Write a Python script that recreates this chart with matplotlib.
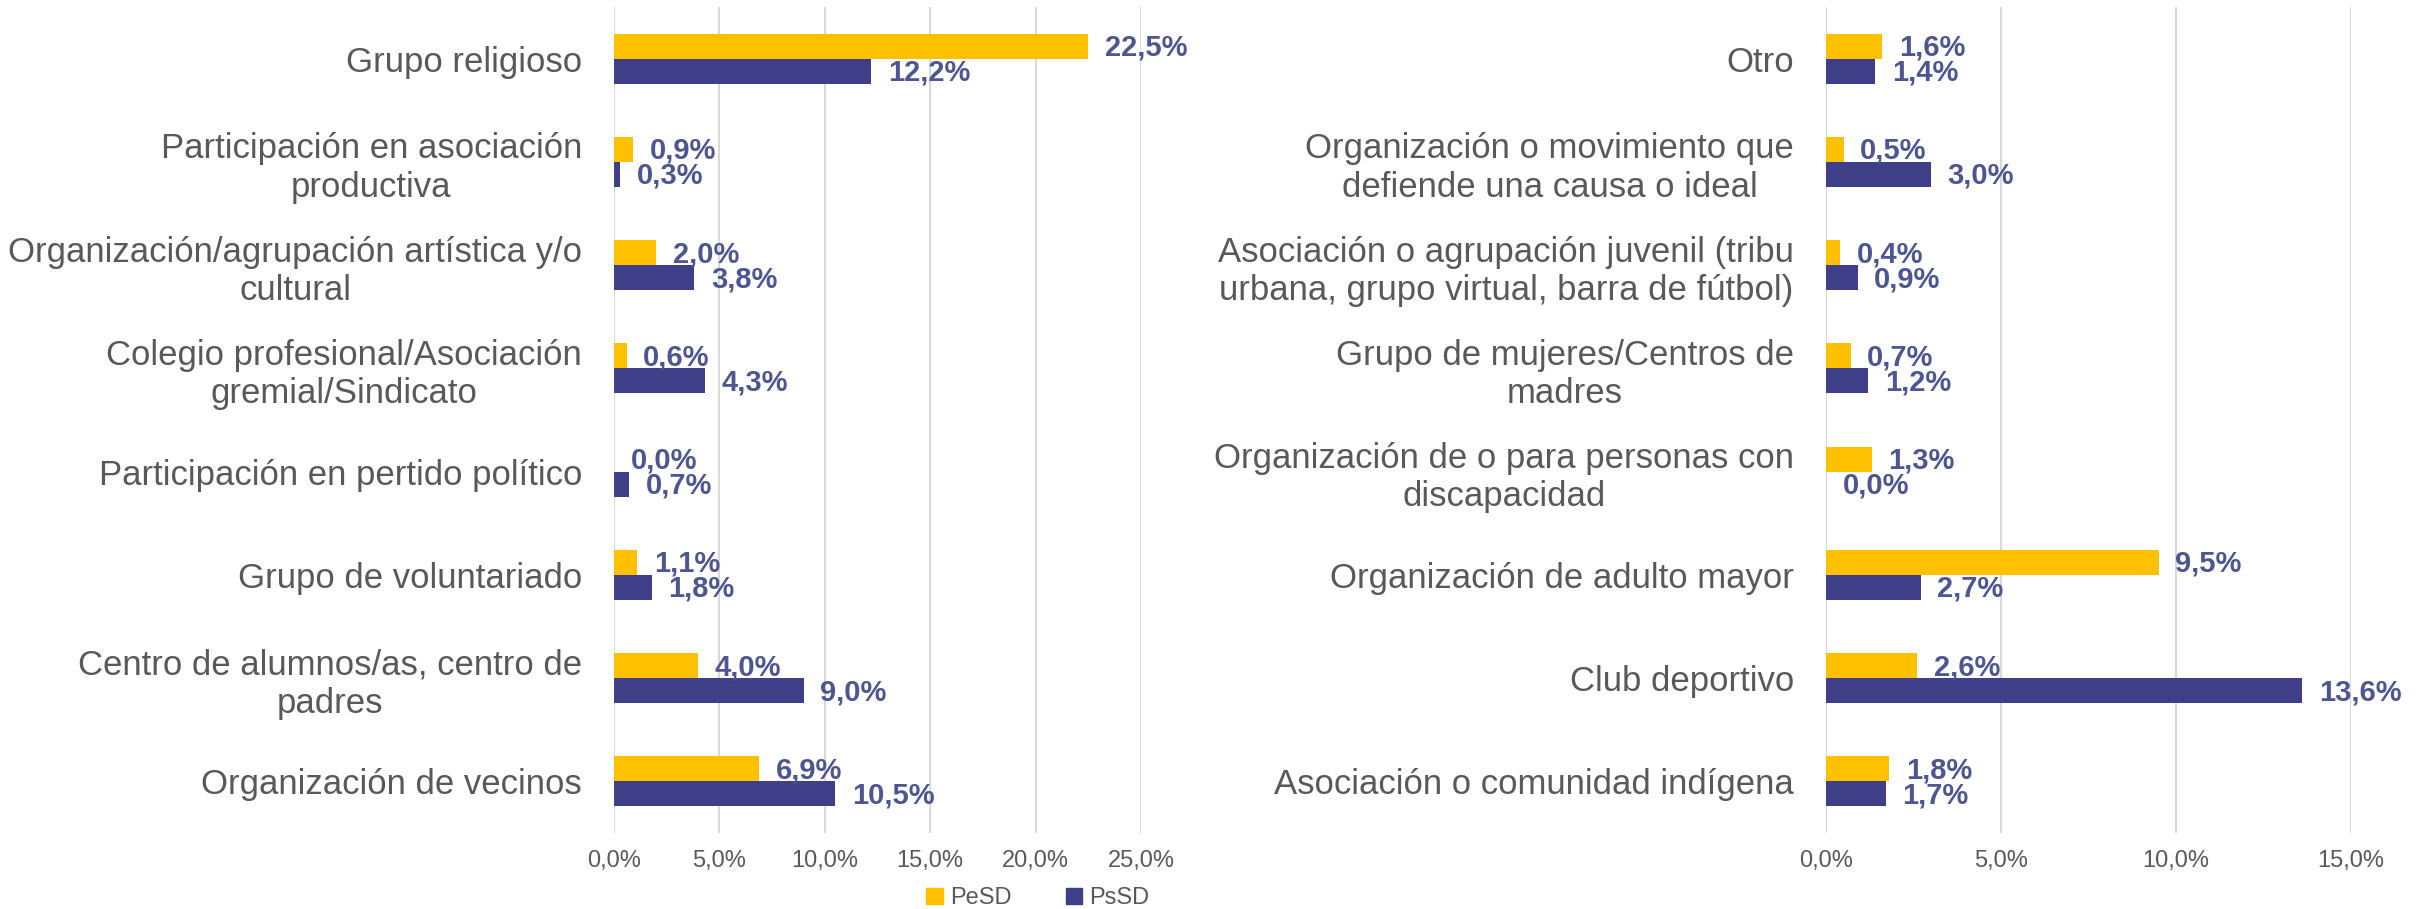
import matplotlib
matplotlib.use("Agg")
import matplotlib.pyplot as plt
import matplotlib.patches as mpatches
from matplotlib.ticker import FuncFormatter
import numpy as np

plt.rcParams['font.family'] = ['Liberation Sans', 'DejaVu Sans']

# left panel
cats_left = ['Grupo religioso',
             'Participación en asociación\nproductiva',
             'Organización/agrupación artística y/o\ncultural',
             'Colegio profesional/Asociación\ngremial/Sindicato',
             'Participación en pertido político',
             'Grupo de voluntariado',
             'Centro de alumnos/as, centro de\npadres',
             'Organización de vecinos']
pesd_left = [22.5, 0.9, 2.0, 0.6, 0.0, 1.1, 4.0, 6.9]
pssd_left = [12.2, 0.3, 3.8, 4.3, 0.7, 1.8, 9.0, 10.5]

# right panel
cats_right = ['Otro',
              'Organización o movimiento que\ndefiende una causa o ideal',
              'Asociación o agrupación juvenil (tribu\nurbana, grupo virtual, barra de fútbol)',
              'Grupo de mujeres/Centros de\nmadres',
              'Organización de o para personas con\ndiscapacidad',
              'Organización de adulto mayor',
              'Club deportivo',
              'Asociación o comunidad indígena']
pesd_right = [1.6, 0.5, 0.4, 0.7, 1.3, 9.5, 2.6, 1.8]
pssd_right = [1.4, 3.0, 0.9, 1.2, 0.0, 2.7, 13.6, 1.7]

series_names = ['PeSD', 'PsSD']
yellow = '#FFC000'
purple = '#3E3F88'
label_col = '#4E5691'
text_col = '#595959'
grid_col = '#D9D9D9'


def pct(v, pos=None):
    return f'{v:.1f}%'.replace('.', ',')


def draw_panel(ax, cats, pesd, pssd, xmax):
    y = np.arange(len(cats))
    h = 0.243
    b1 = ax.barh(y - h / 2, pesd, height=h, color=yellow, zorder=3)
    b2 = ax.barh(y + h / 2, pssd, height=h, color=purple, zorder=3)
    for bars, vals in [(b1, pesd), (b2, pssd)]:
        for bar, v in zip(bars, vals):
            ax.annotate(pct(v), (v, bar.get_y() + bar.get_height() / 2 + 0.015),
                        xytext=(12, 0), textcoords='offset points',
                        ha='left', va='center', fontsize=21, fontweight='bold',
                        color=label_col, zorder=4)
    ax.set_xlim(0, xmax)
    ax.set_ylim(len(cats) - 0.5, -0.5)
    ax.set_yticks(y)
    ax.set_yticklabels(cats, fontsize=25, color=text_col, ha='right', multialignment='center')
    ax.set_xticks(np.arange(0, xmax + 0.01, 5))
    ax.xaxis.set_major_formatter(FuncFormatter(pct))
    ax.tick_params(axis='x', labelsize=17, colors=text_col, length=0, pad=12)
    ax.tick_params(axis='y', length=0, pad=23)
    ax.grid(axis='x', color=grid_col, linewidth=1.5, zorder=0)
    for s in ax.spines.values():
        s.set_visible(False)


fig = plt.figure(figsize=(24.25, 9.09), dpi=100)
ax1 = fig.add_axes([0.2532, 0.0836, 0.2173, 0.9087])
ax2 = fig.add_axes([0.7530, 0.0836, 0.2165, 0.9087])

draw_panel(ax1, cats_left, pesd_left, pssd_left, 25)
draw_panel(ax2, cats_right, pesd_right, pssd_right, 15)

handles = [mpatches.Patch(color=yellow), mpatches.Patch(color=purple)]
fig.legend(handles, series_names, loc='center', bbox_to_anchor=(0.428, 0.012),
           ncol=2, frameon=False, fontsize=17, labelcolor=text_col,
           handlelength=0.7, handleheight=0.7, handletextpad=0.3, columnspacing=2.3,
           borderpad=0, borderaxespad=0)

fig.savefig('out.png', dpi=100)
